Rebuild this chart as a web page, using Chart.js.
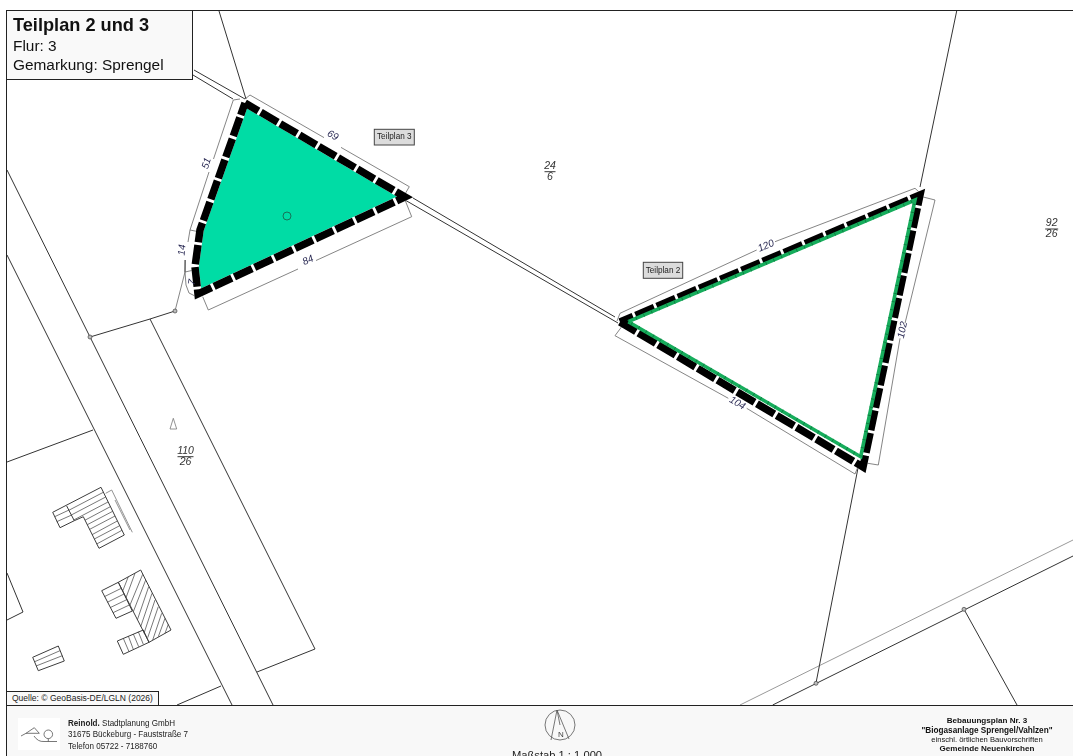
<!DOCTYPE html>
<html lang="de">
<head>
<meta charset="utf-8">
<title>Teilplan 2 und 3</title>
<script src="https://cdn.jsdelivr.net/npm/chart.js@4/dist/chart.umd.min.js"></script>
<style>
  html, body { margin: 0; padding: 0; background: #fff; width: 1073px; height: 756px; overflow: hidden; font-family: "Liberation Sans", Arial, sans-serif; }
  #map { position: absolute; left: 0; top: 0; }
  #frame { position: absolute; left: 6px; top: 10px; width: 1100px; height: 800px; border: 1px solid #222; box-sizing: border-box; pointer-events: none; }
  #titleBox { position: absolute; left: 6px; top: 10px; width: 187px; height: 70px; box-sizing: border-box; background: #f9f9f9; border: 1px solid #222; color: #111; }
  #titleBox div { position: absolute; left: 6px; white-space: nowrap; }
  #source { position: absolute; left: 6px; top: 691px; width: 153px; height: 15px; box-sizing: border-box; background: #f9f9f9; border: 1px solid #222; font-size: 8.5px; line-height: 12px; padding-left: 5px; color: #222; white-space: nowrap; }
  #footer { position: absolute; left: 6px; top: 705px; width: 1067px; height: 51px; box-sizing: border-box; background: #f8f8f8; border-top: 1px solid #222; }
  .office { position: absolute; left: 67.5px; font-size: 9.6px; line-height: 11px; color: #222; white-space: nowrap; transform: scaleX(.84); transform-origin: left; }
  .plan { position: absolute; left: 887px; width: 200px; text-align: center; line-height: 10px; color: #111; white-space: nowrap; }
  #scale { position: absolute; left: 507px; width: 100px; top: 749px; text-align: center; font-size: 11.2px; line-height: 13px; color: #222; white-space: nowrap; }
  #marks { position: absolute; left: 0; top: 0; }
</style>
</head>
<body>
<canvas id="map" width="1073" height="705"></canvas>
<div id="footer"></div>
<svg id="marks" width="1073" height="756" viewBox="0 0 1073 756" fill="none" stroke="#555" stroke-width=".8">
  <rect x="18" y="718" width="42" height="32" fill="#fff" stroke="none"/>
  <path d="M21 736 L26 733.3 L34.3 727.7 L39.3 733.3 L26 733.3 M34 736 Q38 742 44 741.5 L57 741.5"/>
  <circle cx="48.3" cy="734.3" r="4.3"/><path d="M48.3 738.6 V741.5"/>
  <circle cx="560" cy="725" r="15"/>
  <path d="M557 710 L551 740 M557 710 L569 739 M557 710 L560 725"/>
  <text x="558" y="737" font-size="8" fill="#444" stroke="none" font-family="Liberation Sans">N</text>
</svg>
<div id="frame"></div>
<div id="titleBox">
  <div style="top:4px;font-size:18.2px;font-weight:bold;">Teilplan 2 und 3</div>
  <div style="top:26px;font-size:15.4px;">Flur: 3</div>
  <div style="top:45px;font-size:15.4px;">Gemarkung: Sprengel</div>
</div>
<div id="source">Quelle: © GeoBasis-DE/LGLN (2026)</div>
<div class="office" style="top:717px"><b>Reinold.</b> Stadtplanung GmbH</div>
<div class="office" style="top:728px">31675 Bückeburg - Fauststraße 7</div>
<div class="office" style="top:740px">Telefon 05722 - 7188760</div>
<div id="scale">Maßstab 1 : 1.000</div>
<div class="plan" style="top:716px;font-size:8.1px;font-weight:bold;">Bebauungsplan Nr. 3</div>
<div class="plan" style="top:725.5px;font-size:8.2px;font-weight:bold;">"Biogasanlage Sprengel/Vahlzen"</div>
<div class="plan" style="top:734.5px;font-size:7.6px;">einschl. örtlichen Bauvorschriften</div>
<div class="plan" style="top:743.5px;font-size:8.1px;font-weight:bold;">Gemeinde Neuenkirchen</div>
<script>
// plan coordinates (y grows downwards)
var teilplan3 = [[245,103],[405,197],[198,294],[195,267],[200,230],[245,103]];
var teilplan2 = [[620,322],[920,195],[863,467],[620,322]];
var teilplan2Inner = [[628.3,321.7],[915,200],[860.7,456.7],[628.3,321.7]];

var parcelLines = [
  [[7,170],[273,705]],
  [[7,255],[232,705]],
  [[150,319],[315,649],[257,672]],
  [[90,337],[150,319],[175,311]],
  [[7,462],[93,430]],
  [[7,573],[23,612],[7,620]],
  [[177,705],[221,686]],
  [[194,70],[245,99]],
  [[193,75],[233,99]],
  [[413,198],[615,317]],
  [[405,200],[618,323]],
  [[219,11],[246,99]],
  [[920,187],[956.7,11]],
  [[858,468],[816,683]],
  [[772.7,705],[1073,556]],
  [[964,609.3],[1017,705]]
];
var paleLines = [
  [[740,705],[1073,540]]
];
var boundaryNodes = [[90,337],[175,311],[816,683.3],[964,609.3]];

var dimensionLines = [
  [[250,95],[324,137.6]], [[341,147.4],[409.3,186.7]], [[250,95],[245,99]], [[409.3,186.7],[405,194]],
  [[208.3,310],[298,269]], [[316,260.5],[411.7,216.7]], [[202.7,296.7],[208.3,310]], [[405,200],[411.7,216.7]],
  [[233.3,100],[213.5,159]], [[209,172],[190,230]], [[233.3,100],[240,99]], [[190,230],[200,232]],
  [[190,230],[188,242]], [[185.5,260],[185,272]], [[175,311],[185,272]],
  [[185,272],[186,285],[189,293],[197,297]], [[185,272],[194,270]],
  [[620,313.3],[756.7,250]], [[775,241.7],[915,188.3]], [[620,313.3],[617,321]], [[915,188.3],[919,192]],
  [[935,200],[905,323.3]], [[900,338.3],[878.3,465]], [[922,196.7],[935,200]], [[866,463],[878.3,465]],
  [[615,335.7],[728.3,398.3]], [[746.7,408.3],[855,474]], [[615,335.7],[621.7,326.7]], [[855,474],[858,466.7]]
];
var dimensionLabels = ['69','84','51','14','7','120','102','104'];
var dimensionAnchors = [[332.7,135.7],[308,260.5],[206.7,163.3],[182.3,250],[192.3,282.3],[766,246],[902.7,330],[737.3,403.3]];
var dimensionAngles = [30,-25,-72,-85,-80,-23,-78,30];

var parcelNumbers = [['110','26'],['24','6'],['92','26']];
var parcelAnchors = [[185.5,456.7],[550,171.7],[1051.7,229]];
var parcelBarHalf = [8,5.5,6.5];
var planLabels = ['Teilplan 3','Teilplan 2'];
var planBoxes = [[374.3,129.3,414.3,145],[643.3,262.3,682.7,278.3]];

var buildingOutlines = [
  [[52.7,512.3],[101,487.3],[124.3,535],[99,548.3],[83.3,516.7],[74.3,520.7],[60,527.7],[52.7,512.3]],
  [[66.7,506],[74.3,520.7]],
  [[118.3,582.3],[140.7,570],[171,630],[149,642.3],[118.3,582.3]],
  [[101.7,590.7],[118.3,582.3],[132.3,611],[116,618.3],[101.7,590.7]],
  [[117.3,641],[143.3,630],[149,642.3],[123.3,654.3],[117.3,641]],
  [[32.7,657.3],[58.3,646],[64.3,661],[38.3,670.7],[32.7,657.3]]
];
var buildingHatch = [
  [[54.7,516.7],[69,510]], [[56.7,521.7],[71.7,515]],
  [[103.3,492.3],[68.8,510.3]], [[105.7,497],[71.3,515]], [[108,502],[73.7,520]],
  [[110.3,506.7],[85,520.2]], [[112.7,511.3],[87.3,524.7]], [[115,516],[89.7,529.3]],
  [[117.3,521],[92,534.7]], [[119.7,525.7],[94.3,539]], [[122,530.3],[96.7,544]],
  [[128.3,576.7],[122.7,591]], [[135,573.3],[126,597.7]], [[142.7,574.3],[130,605]],
  [[145.7,580],[133.3,611.7]], [[148.7,586.7],[137.3,620]], [[152,593.3],[140.7,626.7]],
  [[155,600],[144,633.3]], [[158.3,606.7],[147.7,637.7]], [[161.7,613.3],[152.7,640]],
  [[165,618.3],[158.3,636.7]], [[168.3,624.3],[165,633.3]],
  [[104.3,596.7],[121.3,588.3]], [[107.3,602.3],[124,594]], [[110,607.7],[126.7,599.7]], [[113,612.7],[129.3,605]],
  [[123.3,638.3],[129,651.7]], [[128.3,636],[133.3,649.3]], [[133.3,634],[138.7,646.7]], [[138.3,631.7],[143.3,644.3]],
  [[34.7,661.7],[60,650.7]], [[36,666],[62.3,655.7]]
];
var annexLines = [
  [[105.7,493.3],[111.7,490],[132.3,532.3]],
  [[115,500],[130,530]],
  [[170,429],[173.3,418.3],[176.7,429],[170,429]]
];
var treeMark = [[287,216]];

function toPoints(list) {
  return list.map(function (p) { return { x: p[0], y: p[1] }; });
}

function lineSet(list, color, width, extra) {
  return Object.assign({
    data: toPoints(list),
    showLine: true,
    borderColor: color,
    borderWidth: width,
    pointRadius: 0,
    borderJoinStyle: 'miter',
    tension: 0
  }, extra || {});
}

// written bottom layer first, reversed below since Chart.js paints index 0 last
var layers = [];
annexLines.forEach(function (l) { layers.push(lineSet(l, '#777', 0.8)); });
paleLines.forEach(function (l) { layers.push(lineSet(l, '#9a9a9a', 1)); });
parcelLines.forEach(function (l) { layers.push(lineSet(l, '#333', 1)); });
buildingHatch.forEach(function (l) { layers.push(lineSet(l, '#555', 0.8)); });
buildingOutlines.forEach(function (l) { layers.push(lineSet(l, '#3c3c3c', 1)); });
dimensionLines.forEach(function (l) { layers.push(lineSet(l, '#666', 0.8)); });

layers.push(lineSet(teilplan3, 'rgba(0,0,0,0)', 0, { fill: 'shape', backgroundColor: '#00dca5' }));
layers.push(lineSet(teilplan3, '#fff', 7.5));
layers.push(lineSet(teilplan3, '#000', 7.5, { borderDash: [19.6, 2.8], borderDashOffset: 4 }));
layers.push(lineSet(teilplan2, '#fff', 7.5));
layers.push(lineSet(teilplan2, '#000', 7.5, { borderDash: [20.2, 2.8], borderDashOffset: 6 }));
layers.push(lineSet(teilplan2Inner, '#16ad5c', 3.6));
layers.push(lineSet(teilplan2Inner, '#0c7a3e', 3.6, { borderDash: [0.8, 7.5] }));

layers.push({ data: toPoints(boundaryNodes), showLine: false, pointRadius: 2, pointBackgroundColor: '#bbb', pointBorderColor: '#444', pointBorderWidth: 0.7 });
layers.push({ data: toPoints(treeMark), showLine: false, pointRadius: 4, pointBackgroundColor: 'rgba(0,0,0,0)', pointBorderColor: '#1a6650', pointBorderWidth: 0.9 });
layers.reverse();

// texts that sit in the plan: measures, parcel numbers, sheet labels
var planText = {
  id: 'planText',
  afterDatasetsDraw: function (chart) {
    var ctx = chart.ctx, sx = chart.scales.x, sy = chart.scales.y;
    ctx.save();
    ctx.textAlign = 'center';
    ctx.textBaseline = 'middle';

    dimensionLabels.forEach(function (txt, i) {
      ctx.save();
      ctx.translate(sx.getPixelForValue(dimensionAnchors[i][0]), sy.getPixelForValue(dimensionAnchors[i][1]));
      ctx.rotate(dimensionAngles[i] * Math.PI / 180);
      ctx.font = 'italic 10px "Liberation Sans"';
      ctx.fillStyle = '#2b2b55';
      ctx.fillText(txt, 0, 0);
      ctx.restore();
    });

    parcelNumbers.forEach(function (pair, i) {
      var x = sx.getPixelForValue(parcelAnchors[i][0]), y = sy.getPixelForValue(parcelAnchors[i][1]);
      var half = parcelBarHalf[i];
      ctx.font = 'italic 10.5px "Liberation Sans"';
      ctx.fillStyle = '#333';
      ctx.fillText(pair[0], x, y - 5.5);
      ctx.fillText(pair[1], x, y + 5.5);
      ctx.strokeStyle = '#222';
      ctx.lineWidth = 0.9;
      ctx.beginPath();
      ctx.moveTo(x - half, y);
      ctx.lineTo(x + half, y);
      ctx.stroke();
    });

    planLabels.forEach(function (txt, i) {
      var b = planBoxes[i];
      var x0 = sx.getPixelForValue(b[0]), y0 = sy.getPixelForValue(b[1]);
      var x1 = sx.getPixelForValue(b[2]), y1 = sy.getPixelForValue(b[3]);
      ctx.fillStyle = '#dcdcdc';
      ctx.strokeStyle = '#444';
      ctx.lineWidth = 1;
      ctx.fillRect(x0, y0, x1 - x0, y1 - y0);
      ctx.strokeRect(x0, y0, x1 - x0, y1 - y0);
      ctx.font = '8.2px "Liberation Sans"';
      ctx.fillStyle = '#222';
      ctx.fillText(txt, (x0 + x1) / 2, (y0 + y1) / 2);
    });
    ctx.restore();
  }
};

var plan = new Chart(document.getElementById('map').getContext('2d'), {
  type: 'scatter',
  data: { datasets: layers },
  plugins: [planText],
  options: {
    responsive: false,
    animation: false,
    events: [],
    layout: { padding: 0, autoPadding: false },
    plugins: { legend: { display: false }, tooltip: { enabled: false } },
    scales: {
      x: { type: 'linear', display: false, min: 0, max: 1073 },
      y: { type: 'linear', display: false, min: 0, max: 705, reverse: true }
    }
  }
});
</script>
</body>
</html>
